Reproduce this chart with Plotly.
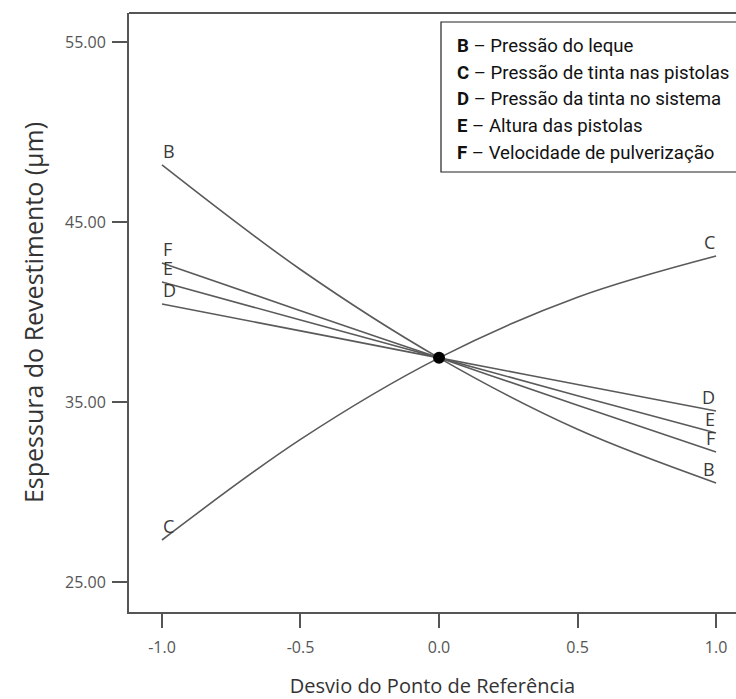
import plotly.graph_objects as go

# ---- data ----
x_dev = [-1.0, -0.5, 0.0, 0.5, 1.0]
factors = ["B", "C", "D", "E", "F"]
y_B = [48.17, 42.36, 37.45, 33.48, 30.50]
y_C = [27.33, 32.92, 37.45, 40.82, 43.11]
y_D = [40.44, 38.95, 37.45, 35.97, 34.50]
y_E = [41.67, 39.55, 37.45, 35.35, 33.28]
y_F = [42.72, 40.07, 37.45, 34.82, 32.22]
ref_x = [0.0]
ref_y = [37.45]
legend_names = [
    "Pressão do leque",
    "Pressão de tinta nas pistolas",
    "Pressão da tinta no sistema",
    "Altura das pistolas",
    "Velocidade de pulverização",
]
y_ticks = [25, 35, 45, 55]
y_tick_text = ["25.00", "35.00", "45.00", "55.00"]
x_ticks = [-1.0, -0.5, 0.0, 0.5, 1.0]
x_tick_text = ["-1.0", "-0.5", "0.0", "0.5", "1.0"]

series = dict(zip(factors, [y_B, y_C, y_D, y_E, y_F]))

LINE = "#5a5a5a"
AX = "#555555"
FONT = "Open Sans, DejaVu Sans, sans-serif"

fig = go.Figure()
for name, ys in series.items():
    fig.add_trace(go.Scatter(
        x=x_dev, y=ys, mode="lines", name=name,
        line=dict(color=LINE, width=1.6, shape="spline", smoothing=1.0),
        showlegend=False, hoverinfo="skip",
    ))
fig.add_trace(go.Scatter(
    x=ref_x, y=ref_y, mode="markers",
    marker=dict(color="black", size=12),
    showlegend=False, hoverinfo="skip",
))

annotations = []
for name, ys in series.items():
    annotations.append(dict(x=x_dev[0], y=ys[0], xref="x", yref="y", text=name,
                            showarrow=False, xanchor="left", yanchor="middle",
                            yshift=14, xshift=-1,
                            font=dict(family=FONT, size=18, color="#3a3a3a")))
    annotations.append(dict(x=x_dev[-1], y=ys[-1], xref="x", yref="y", text=name,
                            showarrow=False, xanchor="right", yanchor="middle",
                            yshift=14, xshift=1,
                            font=dict(family=FONT, size=18, color="#3a3a3a")))

# legend box text
plot_bottom_px, plot_left_px, plot_w, plot_h = 612, 129, 607, 599
rows_px = [46, 72.5, 99.5, 126, 153]
for f, txt, ypx in zip(factors, legend_names, rows_px):
    annotations.append(dict(
        x=(455 - plot_left_px) / plot_w, y=(plot_bottom_px - ypx) / plot_h,
        xref="paper", yref="paper", showarrow=False, xanchor="left", yanchor="middle",
        text=f"<b>{f}</b> – {txt}",
        font=dict(family="Liberation Sans Narrow, Arial Narrow, Roboto, sans-serif",
                  size=18.6, color="#111111"),
    ))

shapes = [
    dict(type="rect", xref="paper", yref="paper",
         x0=(441 - plot_left_px) / plot_w, x1=(745 - plot_left_px) / plot_w,
         y0=(plot_bottom_px - 172) / plot_h, y1=(plot_bottom_px - 22) / plot_h,
         line=dict(color="#222222", width=1.2), fillcolor="white", layer="above"),
    dict(type="line", xref="paper", yref="paper", x0=0, x1=1.05, y0=1, y1=1,
         line=dict(color=AX, width=2)),
]

fig.update_layout(
    width=736, height=699,
    margin=dict(l=129, r=0, t=13, b=87),
    paper_bgcolor="white", plot_bgcolor="white",
    annotations=annotations, shapes=shapes,
    font=dict(family=FONT, color=AX),
)
fig.update_xaxes(
    range=[-1.119, 1.072], tickvals=x_ticks, ticktext=x_tick_text,
    showgrid=False, zeroline=False, showline=True, linecolor=AX, linewidth=2,
    ticks="outside", ticklen=14, tickwidth=1.5, tickcolor=AX,
    ticklabelstandoff=6,
    tickfont=dict(family=FONT, size=16, color="#555555"),
    title=dict(text="Desvio do Ponto de Referência", standoff=24,
               font=dict(family=FONT, size=20, color="#333333")),
)
fig.update_yaxes(
    range=[23.33, 56.61], tickvals=y_ticks, ticktext=y_tick_text,
    showgrid=False, zeroline=False, showline=True, linecolor=AX, linewidth=2,
    ticks="outside", ticklen=15, tickwidth=1.5, tickcolor=AX,
    ticklabelstandoff=3,
    tickfont=dict(family=FONT, size=16, color="#555555"),
    title=dict(text="Espessura do Revestimento (µm)", standoff=14,
               font=dict(family=FONT, size=25, color="#333333")),
)

fig.write_html(
    "out.html",
    config={"displayModeBar": False},
    post_script="document.body.style.margin='0';document.body.style.overflow='hidden';",
)
